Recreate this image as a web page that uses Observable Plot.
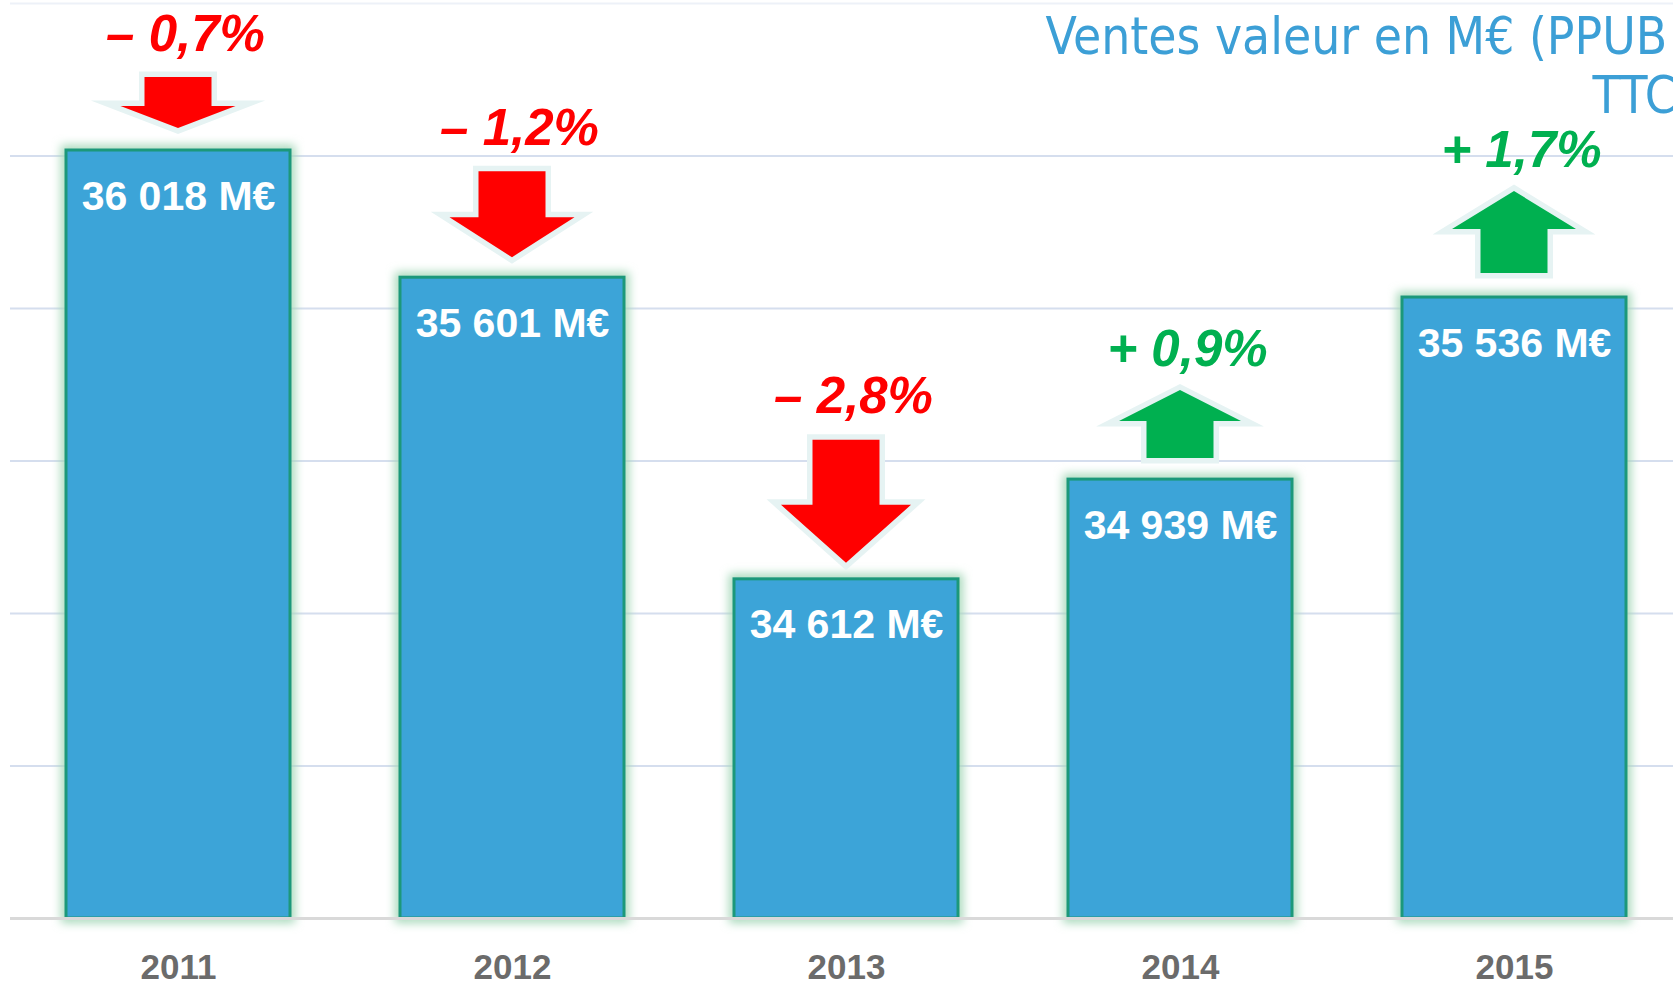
<!DOCTYPE html>
<html>
<head>
<meta charset="utf-8">
<script src="https://cdn.jsdelivr.net/npm/d3@7"></script>
<script src="https://cdn.jsdelivr.net/npm/@observablehq/plot@0.6"></script>
<style>
  html, body { margin: 0; padding: 0; background: #ffffff; overflow: hidden; }
  #chart { width: 1673px; height: 984px; overflow: hidden; }
  #chart svg { display: block; }
</style>
</head>
<body>
<div id="chart"></div>
<script>
// ---- data ----
const years = ["2011", "2012", "2013", "2014", "2015"];
const sales = [36018, 35601, 34612, 34939, 35536];          // M€
const changes = [-0.7, -1.2, -2.8, 0.9, 1.7];               // % vs previous year
const gridTicks = [34000, 34500, 35000, 35500, 36000];
const topTick = [36500];
const yBase = 33500;
const titleLines = ["Ventes valeur en M€ (PPUB", "TTC)"];

// ---- layout for the decorative block arrows (pixels) ----
const arrowLayout = [
  { len: 51,  head: 22, headW: 115, gap: 22 },
  { len: 86,  head: 40, headW: 125, gap: 20 },
  { len: 123, head: 58, headW: 130, gap: 16 },
  { len: 68,  head: 31, headW: 122, gap: 21 },
  { len: 82,  head: 38, headW: 124, gap: 24 }
];
const shaftW = 67;
const RED = "#ff0000", GREEN = "#00b050";

const data = years.map((year, i) => ({ year, sales: sales[i], change: changes[i], i }));

const fmtSales = v => String(v).replace(/\B(?=(\d{3})+(?!\d))/g, " ") + " M€";
const fmtChange = c => (c < 0 ? "– " : "+ ") + Math.abs(c).toFixed(1).replace(".", ",") + "%";

function arrowsMark(index, scales) {
  const x = scales.x, y = scales.y;
  const g = d3.create("svg:g");
  data.forEach((d, i) => {
    const a = arrowLayout[i];
    const cx = x(d.year) + x.bandwidth() / 2;
    const barTop = y(d.sales);
    const bottom = barTop - a.gap;
    const top = bottom - a.len;
    let p;
    if (d.change < 0) {
      const hy = bottom - a.head;
      p = `M${cx - shaftW / 2},${top}L${cx + shaftW / 2},${top}L${cx + shaftW / 2},${hy}L${cx + a.headW / 2},${hy}L${cx},${bottom}L${cx - a.headW / 2},${hy}L${cx - shaftW / 2},${hy}Z`;
    } else {
      const hy = top + a.head;
      p = `M${cx},${top}L${cx + a.headW / 2},${hy}L${cx + shaftW / 2},${hy}L${cx + shaftW / 2},${bottom}L${cx - shaftW / 2},${bottom}L${cx - shaftW / 2},${hy}L${cx - a.headW / 2},${hy}Z`;
    }
    g.append("path").attr("d", p).attr("fill", "#e6f3f3").attr("stroke", "#e6f3f3")
      .attr("stroke-width", 11).attr("stroke-linejoin", "miter").attr("stroke-miterlimit", 10);
    g.append("path").attr("d", p).attr("fill", d.change < 0 ? RED : GREEN);
  });
  return g.node();
}

const percentMarks = data.map((d, i) => {
  const a = arrowLayout[i];
  const off = a.gap + a.len + (d.change < 0 ? 27 : 25);
  return Plot.text([d], {
    x: "year", y: "sales", text: r => fmtChange(r.change),
    dy: -off, dx: 7, lineAnchor: "bottom", textAnchor: "middle",
    fontSize: 51, fontWeight: "bold", fontStyle: "italic",
    fontFamily: "Liberation Sans, Arial, sans-serif",
    fill: d.change < 0 ? RED : GREEN
  });
});

const plot = Plot.plot({
  width: 1673,
  height: 984,
  marginLeft: 10,
  marginRight: 0,
  marginTop: 3,
  marginBottom: 66,
  style: { background: "#ffffff", overflow: "hidden" },
  x: { type: "band", domain: years, range: [9, 1683], paddingInner: 0.33, paddingOuter: 0.165, axis: null },
  y: { domain: [yBase, 36500], axis: null },
  marks: [
    Plot.ruleY(topTick, { stroke: "#edf1f8", strokeWidth: 2 }),
    Plot.ruleY(gridTicks, { stroke: "#d5deee", strokeWidth: 2 }),
    // soft glow around bars (blurred after render)
    Plot.barY(data, { x: "year", y1: yBase, y2: "sales", fill: "none", stroke: "#a6d8b9", strokeWidth: 10 }),
    Plot.barY(data, { x: "year", y1: yBase, y2: "sales", fill: "#3ca4d8", stroke: "#1c987a", strokeWidth: 3 }),
    Plot.ruleY([yBase], { stroke: "#d9d9d9", strokeWidth: 3 }),
    Plot.text(data, {
      x: "year", y: "sales", text: d => fmtSales(d.sales), dy: 59, lineAnchor: "bottom",
      fill: "#ffffff", fontSize: 41, fontWeight: "bold", fontFamily: "Liberation Sans, Arial, sans-serif"
    }),
    Plot.text(data, {
      x: "year", text: "year", frameAnchor: "bottom", lineAnchor: "bottom", dy: 60,
      fill: "#6b6b6b", fontSize: 35, fontWeight: "bold", fontFamily: "Liberation Sans, Arial, sans-serif"
    }),
    arrowsMark,
    ...percentMarks,
    Plot.text([titleLines[0]], {
      text: d => d, frameAnchor: "top-left", textAnchor: "start", lineAnchor: "bottom",
      dx: 1035, dy: 50, fontSize: 51, fill: "#3c9fd6", fontFamily: "DejaVu Sans Condensed, DejaVu Sans, sans-serif"
    }),
    Plot.text([titleLines[1]], {
      text: d => d, frameAnchor: "top-left", textAnchor: "start", lineAnchor: "bottom",
      dx: 1582, dy: 109, fontSize: 51, fill: "#3c9fd6", fontFamily: "DejaVu Sans Condensed, DejaVu Sans, sans-serif"
    })
  ]
});

// blur filter for the bar glow (first bar layer)
const svgSel = d3.select(plot.tagName.toLowerCase() === "svg" ? plot : plot.querySelector("svg"));
const filt = svgSel.insert("defs", ":first-child").append("filter")
  .attr("id", "barGlow").attr("filterUnits", "userSpaceOnUse")
  .attr("x", 0).attr("y", 0).attr("width", 1673).attr("height", 984);
filt.append("feGaussianBlur").attr("stdDeviation", 5);
const barGroups = svgSel.selectAll('g[aria-label="bar"]').nodes();
if (barGroups.length) d3.select(barGroups[0]).attr("filter", "url(#barGlow)");

document.getElementById("chart").appendChild(plot);
</script>
</body>
</html>
